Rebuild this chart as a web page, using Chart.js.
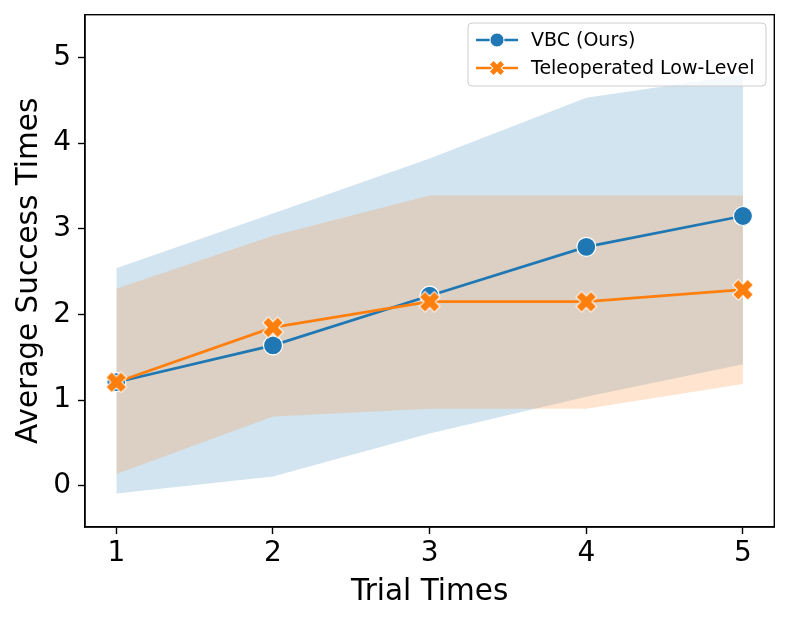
<!DOCTYPE html>
<html>
<head>
<meta charset="utf-8">
<script src="https://cdn.jsdelivr.net/npm/chart.js@4"></script>
<style>
html,body{margin:0;padding:0;background:#fff;}
#wrap{width:789px;height:624px;}
</style>
</head>
<body>
<div id="wrap"><canvas id="c" width="789" height="624"></canvas></div>
<script>
const trials = [1, 2, 3, 4, 5];
const xTicks = [1, 2, 3, 4, 5];
const yTicks = [0, 1, 2, 3, 4, 5];
const vbcMean  = [1.21, 1.64, 2.22, 2.79, 3.15];
const vbcLower = [-0.09, 0.11, 0.61, 1.04, 1.42];
const vbcUpper = [2.54, 3.18, 3.82, 4.53, 4.80];
const teleMean  = [1.21, 1.85, 2.15, 2.15, 2.29];
const teleLower = [0.14, 0.81, 0.90, 0.90, 1.19];
const teleUpper = [2.30, 2.92, 3.39, 3.39, 3.39];
const seriesNames = ['VBC (Ours)', 'Teleoperated Low-Level'];

const BLUE = '#1f77b4', ORANGE = '#ff7f0e';
const FONT = "'DejaVu Sans', sans-serif";

function pts(ys){ return trials.map((x,i)=>({x:x, y:ys[i]})); }

function xMarker(size){
  const pad = 3;
  const c = document.createElement('canvas');
  const dpr = window.devicePixelRatio || 1;
  const w = size + pad*2;
  c.width = w*dpr; c.height = w*dpr;
  c.style.width = w+'px'; c.style.height = w+'px';
  const g = c.getContext('2d');
  g.scale(dpr,dpr);
  g.translate(w/2, w/2);
  const a = size/2*1.15, t = size*0.2;
  const p = [[-t,-a],[t,-a],[t,-t],[a,-t],[a,t],[t,t],[t,a],[-t,a],[-t,t],[-a,t],[-a,-t],[-t,-t]];
  g.rotate(Math.PI/4);
  g.beginPath();
  p.forEach((q,i)=> i? g.lineTo(q[0]*0.8,q[1]*0.8) : g.moveTo(q[0]*0.8,q[1]*0.8));
  g.closePath();
  g.lineJoin='miter';
  g.lineWidth = 2;
  g.strokeStyle = '#fff';
  g.stroke();
  g.fillStyle = ORANGE;
  g.fill();
  return c;
}
const xMark = xMarker(22);
const xMarkSmall = xMarker(16);

const framePlugin = {
  id:'frame',
  afterDraw(chart){
    const {ctx, chartArea:a} = chart;
    ctx.save();
    ctx.strokeStyle = '#000';
    ctx.lineWidth = 1.4;
    ctx.strokeRect(a.left, a.top, a.right-a.left, a.bottom-a.top);
    const bx=468, by=23, bw=298, bh=63, r=4;
    ctx.beginPath();
    ctx.moveTo(bx+r,by); ctx.lineTo(bx+bw-r,by); ctx.quadraticCurveTo(bx+bw,by,bx+bw,by+r);
    ctx.lineTo(bx+bw,by+bh-r); ctx.quadraticCurveTo(bx+bw,by+bh,bx+bw-r,by+bh);
    ctx.lineTo(bx+r,by+bh); ctx.quadraticCurveTo(bx,by+bh,bx,by+bh-r);
    ctx.lineTo(bx,by+r); ctx.quadraticCurveTo(bx,by,bx+r,by);
    ctx.closePath();
    ctx.fillStyle='rgba(255,255,255,0.8)';
    ctx.fill();
    ctx.strokeStyle='#cccccc';
    ctx.lineWidth=1;
    ctx.stroke();
    const rows=[40,68];
    const cols=[BLUE, ORANGE];
    rows.forEach((y,i)=>{
      ctx.strokeStyle=cols[i]; ctx.lineWidth=2.6;
      ctx.beginPath(); ctx.moveTo(476,y); ctx.lineTo(518,y); ctx.stroke();
      if(i===0){
        ctx.beginPath(); ctx.arc(497,y,7,0,Math.PI*2);
        ctx.fillStyle=BLUE; ctx.fill();
        ctx.strokeStyle='#fff'; ctx.lineWidth=1; ctx.stroke();
      } else {
        ctx.drawImage(xMarkSmall, 497-11, y-11, 22, 22);
      }
      ctx.fillStyle='#000';
      ctx.font="19px "+FONT;
      ctx.textBaseline='middle';
      ctx.textAlign='left';
      ctx.fillText(seriesNames[i], 531, y+1);
    });
    ctx.restore();
  }
};

const bandBase = {pointRadius:0, pointHoverRadius:0, borderWidth:0, tension:0};

new Chart(document.getElementById('c'), {
  type:'line',
  data:{
    datasets:[
      Object.assign({label:'vbcLower', data:pts(vbcLower), fill:false, order:11, borderColor:'rgba(0,0,0,0)'}, bandBase),
      Object.assign({label:'vbcUpper', data:pts(vbcUpper), fill:0, order:11, borderColor:'rgba(0,0,0,0)', backgroundColor:'rgba(31,119,180,0.2)'}, bandBase),
      Object.assign({label:'teleLower', data:pts(teleLower), fill:false, order:10, borderColor:'rgba(0,0,0,0)'}, bandBase),
      Object.assign({label:'teleUpper', data:pts(teleUpper), fill:2, order:10, borderColor:'rgba(0,0,0,0)', backgroundColor:'rgba(255,127,14,0.2)'}, bandBase),
      {label:seriesNames[0], data:pts(vbcMean), borderColor:BLUE, borderWidth:2.7, backgroundColor:BLUE,
       pointRadius:9.5, pointHoverRadius:9.5, pointBorderColor:'#fff', pointBorderWidth:1.2, pointBackgroundColor:BLUE,
       fill:false, order:1, tension:0},
      {label:seriesNames[1], data:pts(teleMean), borderColor:ORANGE, borderWidth:2.7, backgroundColor:ORANGE,
       pointStyle:xMark, pointRadius:12, pointHoverRadius:12,
       fill:false, order:0, tension:0}
    ]
  },
  options:{
    responsive:false,
    animation:false,
    events:[],
    layout:{padding:{top:14, right:12, left:0, bottom:0}},
    plugins:{legend:{display:false}, tooltip:{enabled:false}},
    scales:{
      x:{
        type:'linear', min:0.8, max:5.2,
        afterBuildTicks:s=>{ s.ticks = xTicks.map(v=>({value:v})); },
        afterFit:s=>{ s.height = 97; s.paddingLeft = 0; s.paddingRight = 0; },
        grid:{display:true, drawOnChartArea:false, drawTicks:true, tickLength:7, tickWidth:1.4, tickColor:'#000'},
        border:{display:true, color:'#000', width:1.4},
        ticks:{font:{size:28, family:FONT}, color:'#000', padding:3, maxRotation:0, autoSkip:false, callback:v=>String(v)},
        title:{display:true, text:'Trial Times', font:{size:29.5, family:FONT}, color:'#000', padding:{top:0, bottom:14}}
      },
      y:{
        type:'linear', min:-0.48, max:5.5,
        afterBuildTicks:s=>{ s.ticks = yTicks.map(v=>({value:v})); },
        afterFit:s=>{ s.width = 85; s.paddingTop = 0; s.paddingBottom = 0; },
        grid:{display:true, drawOnChartArea:false, drawTicks:true, tickLength:7, tickWidth:1.4, tickColor:'#000'},
        border:{display:true, color:'#000', width:1.4},
        ticks:{font:{size:28, family:FONT}, color:'#000', padding:7, autoSkip:false, callback:v=>String(v)},
        title:{display:true, text:'Average Success Times', font:{size:29.5, family:FONT}, color:'#000', padding:{top:12, bottom:0}}
      }
    }
  },
  plugins:[framePlugin]
});
</script>
</body>
</html>
